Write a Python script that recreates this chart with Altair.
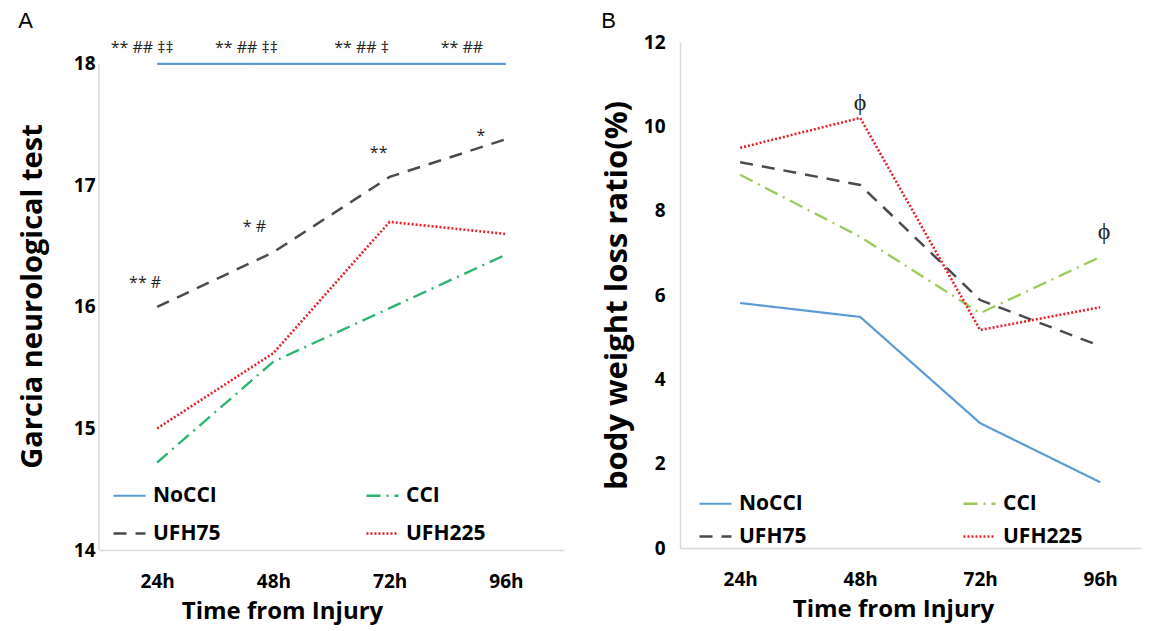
import altair as alt
import pandas as pd

times = ["24h", "48h", "72h", "96h"]
groups = ["NoCCI", "CCI", "UFH75", "UFH225"]

garcia_nocci = [18.0, 18.0, 18.0, 18.0]
garcia_cci = [14.72, 15.55, 15.99, 16.43]
garcia_ufh75 = [16.0, 16.45, 17.07, 17.38]
garcia_ufh225 = [15.0, 15.62, 16.70, 16.60]

weight_nocci = [5.81, 5.48, 2.96, 1.56]
weight_cci = [8.85, 7.38, 5.57, 6.90]
weight_ufh75 = [9.15, 8.61, 5.88, 4.79]
weight_ufh225 = [9.49, 10.20, 5.17, 5.71]

a_top_labels = ["** ## \u2021\u2021", "** ## \u2021\u2021", "** ## \u2021", "** ##"]
a_top_values = [18.13, 18.13, 18.13, 18.13]
a_top_dx = [-15, -27, -28, -44]

a_mid_labels = ["** #", "* #", "**", "*"]
a_mid_values = [16.20, 16.66, 17.27, 17.41]
a_mid_dx = [-12, -19, -11, -25]

b_labels = ["\u03d5", "\u03d5"]
b_times = ["48h", "96h"]
b_values = [10.55, 7.49]
b_dx = [0, 4]

FONT = "Open Sans"


def long_df(series):
    rows = []
    for g, vals in zip(groups, series):
        for t, v in zip(times, vals):
            rows.append({"time": t, "group": g, "value": v})
    return pd.DataFrame(rows)


dfA = long_df([garcia_nocci, garcia_cci, garcia_ufh75, garcia_ufh225])
dfB = long_df([weight_nocci, weight_cci, weight_ufh75, weight_ufh225])

dashes = [[1, 0], [14, 6, 2, 6], [13, 9], [2, 2]]
widths = [2.2, 2.6, 3.8, 2.8]


def make_legend(lx, ly, colpad, rowpad):
    return alt.Legend(
        title=None, orient="none", legendX=lx, legendY=ly, columns=2,
        direction="horizontal",
        columnPadding=colpad, rowPadding=rowpad, symbolType="stroke",
        symbolSize=1024, symbolStrokeWidth=3, labelFont=FONT,
        labelFontSize=21, labelFontWeight="bold", labelColor="black",
        labelOffset=6, padding=0,
    )


def panel(df, colors, ydomain, yvalues, ytitle, ytitle_size, ytitle_weight,
          ytitle_pad, ylabel_pad, ydomain_line, width, height, xscale, lx, ly,
          colpad, rowpad, titleX):
    leg = make_legend(lx, ly, colpad, rowpad)
    x = alt.X("time:N", sort=times, scale=xscale,
              axis=alt.Axis(title="Time from Injury", labelAngle=0, ticks=False,
                            labelPadding=22, labelFont=FONT, labelFontSize=19,
                            labelFontWeight="bold", labelColor="black",
                            titleFont=FONT, titleFontSize=24, titleFontWeight="bold",
                            titleColor="black", titlePadding=8, titleX=titleX,
                            domainColor="#D9D9D9", domainWidth=1.5))
    y = alt.Y("value:Q", scale=alt.Scale(domain=ydomain, nice=False, zero=False),
              axis=alt.Axis(title=ytitle, values=yvalues, format="d", grid=False,
                            ticks=False, labelPadding=ylabel_pad, labelFont=FONT,
                            labelFontSize=19, labelFontWeight="bold",
                            labelColor="black", titleFont=FONT,
                            titleFontSize=ytitle_size,
                            titleFontWeight=ytitle_weight, titleColor="black",
                            titlePadding=ytitle_pad, domain=ydomain_line,
                            domainColor="#D9D9D9", domainWidth=1.5))
    lines = alt.Chart(df).mark_line(strokeCap="butt").encode(
        x=x, y=y,
        color=alt.Color("group:N", scale=alt.Scale(domain=groups, range=colors),
                        legend=leg),
        strokeDash=alt.StrokeDash("group:N", scale=alt.Scale(domain=groups, range=dashes),
                                  legend=leg),
        strokeWidth=alt.StrokeWidth("group:N", scale=alt.Scale(domain=groups, range=widths),
                                    legend=None),
        detail="group:N",
    )
    return lines.properties(width=width, height=height)


def text_layers(times_list, values, labels, dxs, size):
    layers = []
    for t, v, lab, dx in zip(times_list, values, labels, dxs):
        d = pd.DataFrame({"time": [t], "value": [v], "label": [lab]})
        layers.append(
            alt.Chart(d).mark_text(font=FONT, fontSize=size, color="#222222",
                                   dx=dx, baseline="middle").encode(
                x=alt.X("time:N", sort=times), y=alt.Y("value:Q"), text="label:N")
        )
    return layers


colorsA = ["#5B9BD5", "#2DB36F", "#4A4A4A", "#E8202A"]
colorsB = ["#5B9BD5", "#9BCB5A", "#4A4A4A", "#E8202A"]

# Panel A: the plot box reaches above the 18 tick, as in the original
a_ymin, a_ytop = 14, 18.18
baseA = panel(dfA, colorsA, [a_ymin, a_ytop], [14, 15, 16, 17, 18],
              "Garcia neurological test", 29, "bold", 26, 4, False, 465, 508,
              alt.Scale(type="point", padding=0.5),
              13, 436, 140, 10, 183)
axisA = alt.Chart(pd.DataFrame({"lo": [14], "hi": [18]})).mark_rule(
    color="#D9D9D9", strokeWidth=1.5).encode(
    x=alt.value(0), y=alt.Y("lo:Q"), y2="hi:Q")

baseB = panel(dfB, colorsB, [0, 12], [0, 2, 4, 6, 8, 10, 12],
              "body weight loss ratio(%)", 31, "bold", 10, 15, True, 462, 506,
              alt.Scale(type="point", padding=0.425, align=0.59),
              18, 444, 151, 5, 213)

layerA = alt.layer(
    axisA, baseA,
    *text_layers(times, a_top_values, a_top_labels, a_top_dx, 16),
    *text_layers(times, a_mid_values, a_mid_labels, a_mid_dx, 16),
).properties(
    title=alt.TitleParams("A", anchor="start", font="Liberation Sans",
                          fontSize=22, fontWeight="normal", color="black", offset=7))
layerB = alt.layer(
    baseB,
    *text_layers(b_times, b_values, b_labels, b_dx, 24),
).properties(
    title=alt.TitleParams("B", anchor="start", font="Liberation Sans",
                          fontSize=22, fontWeight="normal", color="black", offset=0))

chart = alt.hconcat(layerA, layerB, spacing=37).resolve_scale(
    color="independent", strokeDash="independent", strokeWidth="independent"
).resolve_legend(
    color="independent", strokeDash="independent"
).configure_view(stroke=None).properties(
    padding={"left": 10, "top": 2, "right": 0, "bottom": 3}
)

chart.save("out.html", embed_options={"renderer": "svg", "actions": False})
